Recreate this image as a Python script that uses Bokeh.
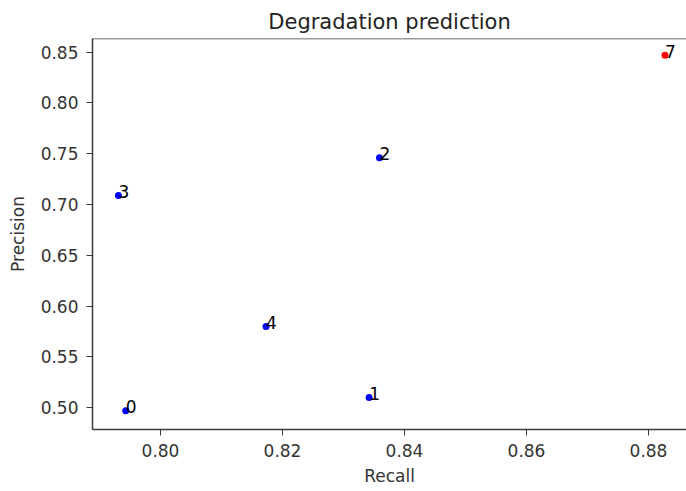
from bokeh.plotting import figure
from bokeh.models import ColumnDataSource, FixedTicker, Range1d, Span, NumeralTickFormatter
from bokeh.embed import file_html
from bokeh.resources import INLINE

# data
labels = ["0", "1", "2", "3", "4", "7"]
recall = [0.7943, 0.8342, 0.8359, 0.7931, 0.8173, 0.8827]
precision = [0.497, 0.510, 0.746, 0.709, 0.580, 0.847]
colors = ["#0000ff", "#0000ff", "#0000ff", "#0000ff", "#0000ff", "#ff0000"]
x_ticks = [0.80, 0.82, 0.84, 0.86, 0.88]
y_ticks = [0.50, 0.55, 0.60, 0.65, 0.70, 0.75, 0.80, 0.85]

FONT = "DejaVu Sans"
AXIS_COLOR = "#3a3a3a"

y_lo, y_hi = 0.4785, 0.8635
x_lo, x_hi = 0.78885, 0.88623

p = figure(width=686, height=491, output_backend="svg", toolbar_location=None,
           x_range=Range1d(x_lo, x_hi), y_range=Range1d(y_lo, y_hi),
           title="Degradation prediction",
           min_border_left=92, min_border_right=0, min_border_bottom=62, min_border_top=38)

src = ColumnDataSource(dict(x=recall, y=precision, lab=labels, c=colors))
p.scatter("x", "y", source=src, size=7, color="c", line_color=None)
p.text("x", "y", text="lab", source=src, text_font_size="17px", text_align="left",
       text_baseline="middle", y_offset=-4, text_color="black", text_font={"value": FONT})

p.title.text_font = FONT
p.title.text_font_size = "21px"
p.title.text_font_style = "normal"
p.title.align = "center"
p.title.text_color = "#222222"

p.xgrid.visible = False
p.ygrid.visible = False
p.outline_line_color = None
p.add_layout(Span(location=y_hi, dimension="width", line_color=AXIS_COLOR, line_width=1.5))

for ax, ticks in ((p.xaxis[0], x_ticks), (p.yaxis[0], y_ticks)):
    ax.ticker = FixedTicker(ticks=ticks)
    ax.formatter = NumeralTickFormatter(format="0.00")
    ax.minor_tick_line_color = None
    ax.major_tick_in = 0
    ax.major_tick_out = 6
    ax.axis_line_color = AXIS_COLOR
    ax.axis_line_width = 1.5
    ax.major_tick_line_color = AXIS_COLOR
    ax.major_label_text_font = FONT
    ax.major_label_text_font_size = "17px"
    ax.major_label_text_color = "#333333"
    ax.axis_label_text_font = FONT
    ax.axis_label_text_font_size = "17px"
    ax.axis_label_text_font_style = "normal"
    ax.axis_label_text_color = "#333333"

p.xaxis.axis_label = "Recall"
p.yaxis.axis_label = "Precision"
p.xaxis.major_label_standoff = 8
p.xaxis.axis_label_standoff = 6
p.yaxis.major_label_standoff = 8
p.yaxis.axis_label_standoff = 10

open("out.html", "w").write(file_html(p, INLINE))
